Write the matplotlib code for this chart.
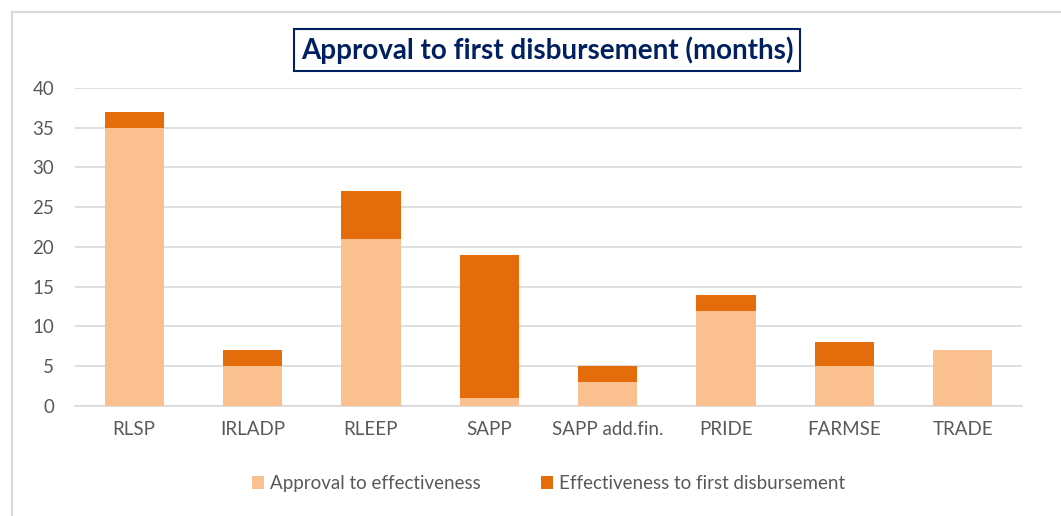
import matplotlib.pyplot as plt
from matplotlib.patches import Rectangle

projects = ['RLSP', 'IRLADP', 'RLEEP', 'SAPP', 'SAPP add.fin.', 'PRIDE', 'FARMSE', 'TRADE']
approval_to_effect = [35, 5, 21, 1, 3, 12, 5, 7]
effect_to_disb = [2, 2, 6, 18, 2, 2, 3, 0]
yticks = [0, 5, 10, 15, 20, 25, 30, 35, 40]

plt.rcParams['font.family'] = ['Lato', 'DejaVu Sans']

fig = plt.figure(figsize=(10.61, 5.16), dpi=100)
ax = fig.add_axes([0.0707, 0.2132, 0.8925, 0.6163])

x = range(len(projects))
ax.bar(x, approval_to_effect, width=0.5, color='#FAC090', label='Approval to effectiveness', zorder=3)
ax.bar(x, effect_to_disb, width=0.5, bottom=approval_to_effect, color='#E46C0A',
       label='Effectiveness to first disbursement', zorder=3)

ax.set_xlim(-0.5, len(projects) - 0.5)
ax.set_ylim(0, 40)
ax.set_yticks(yticks)
ax.set_xticks(list(x))
ax.set_xticklabels(projects)
ax.tick_params(axis='both', length=0, labelsize=13.5, colors='#595959')
ax.tick_params(axis='x', pad=11)
ax.tick_params(axis='y', pad=15)
ax.yaxis.grid(True, color='#D9D9D9', linewidth=1.2, zorder=0)
for s in ['top', 'right', 'left']:
    ax.spines[s].set_visible(False)
ax.spines['bottom'].set_color('#D9D9D9')
ax.spines['bottom'].set_linewidth(1.2)

leg = ax.legend(loc='upper center', bbox_to_anchor=(0.5, -0.165), ncol=2, frameon=False,
                fontsize=13.5, handlelength=0.65, handleheight=0.65, columnspacing=3.2,
                handletextpad=0.3)
for t in leg.get_texts():
    t.set_color('#595959')

# outer chart frame (cut off at right and bottom)
fig.patches.append(Rectangle((12 / 1061, -0.1), 1.2, (516 - 12) / 516 + 0.1,
                             transform=fig.transFigure, fill=False,
                             edgecolor='#D9D9D9', linewidth=1.5))

fig.text(0.5155, 0.903, 'Approval to first disbursement (months)', ha='center', va='center',
         fontsize=20, fontweight='bold', color='#002060',
         bbox=dict(boxstyle='square,pad=0.25', facecolor='white', edgecolor='#002060', linewidth=1.5))

plt.savefig('out.png', dpi=100)
